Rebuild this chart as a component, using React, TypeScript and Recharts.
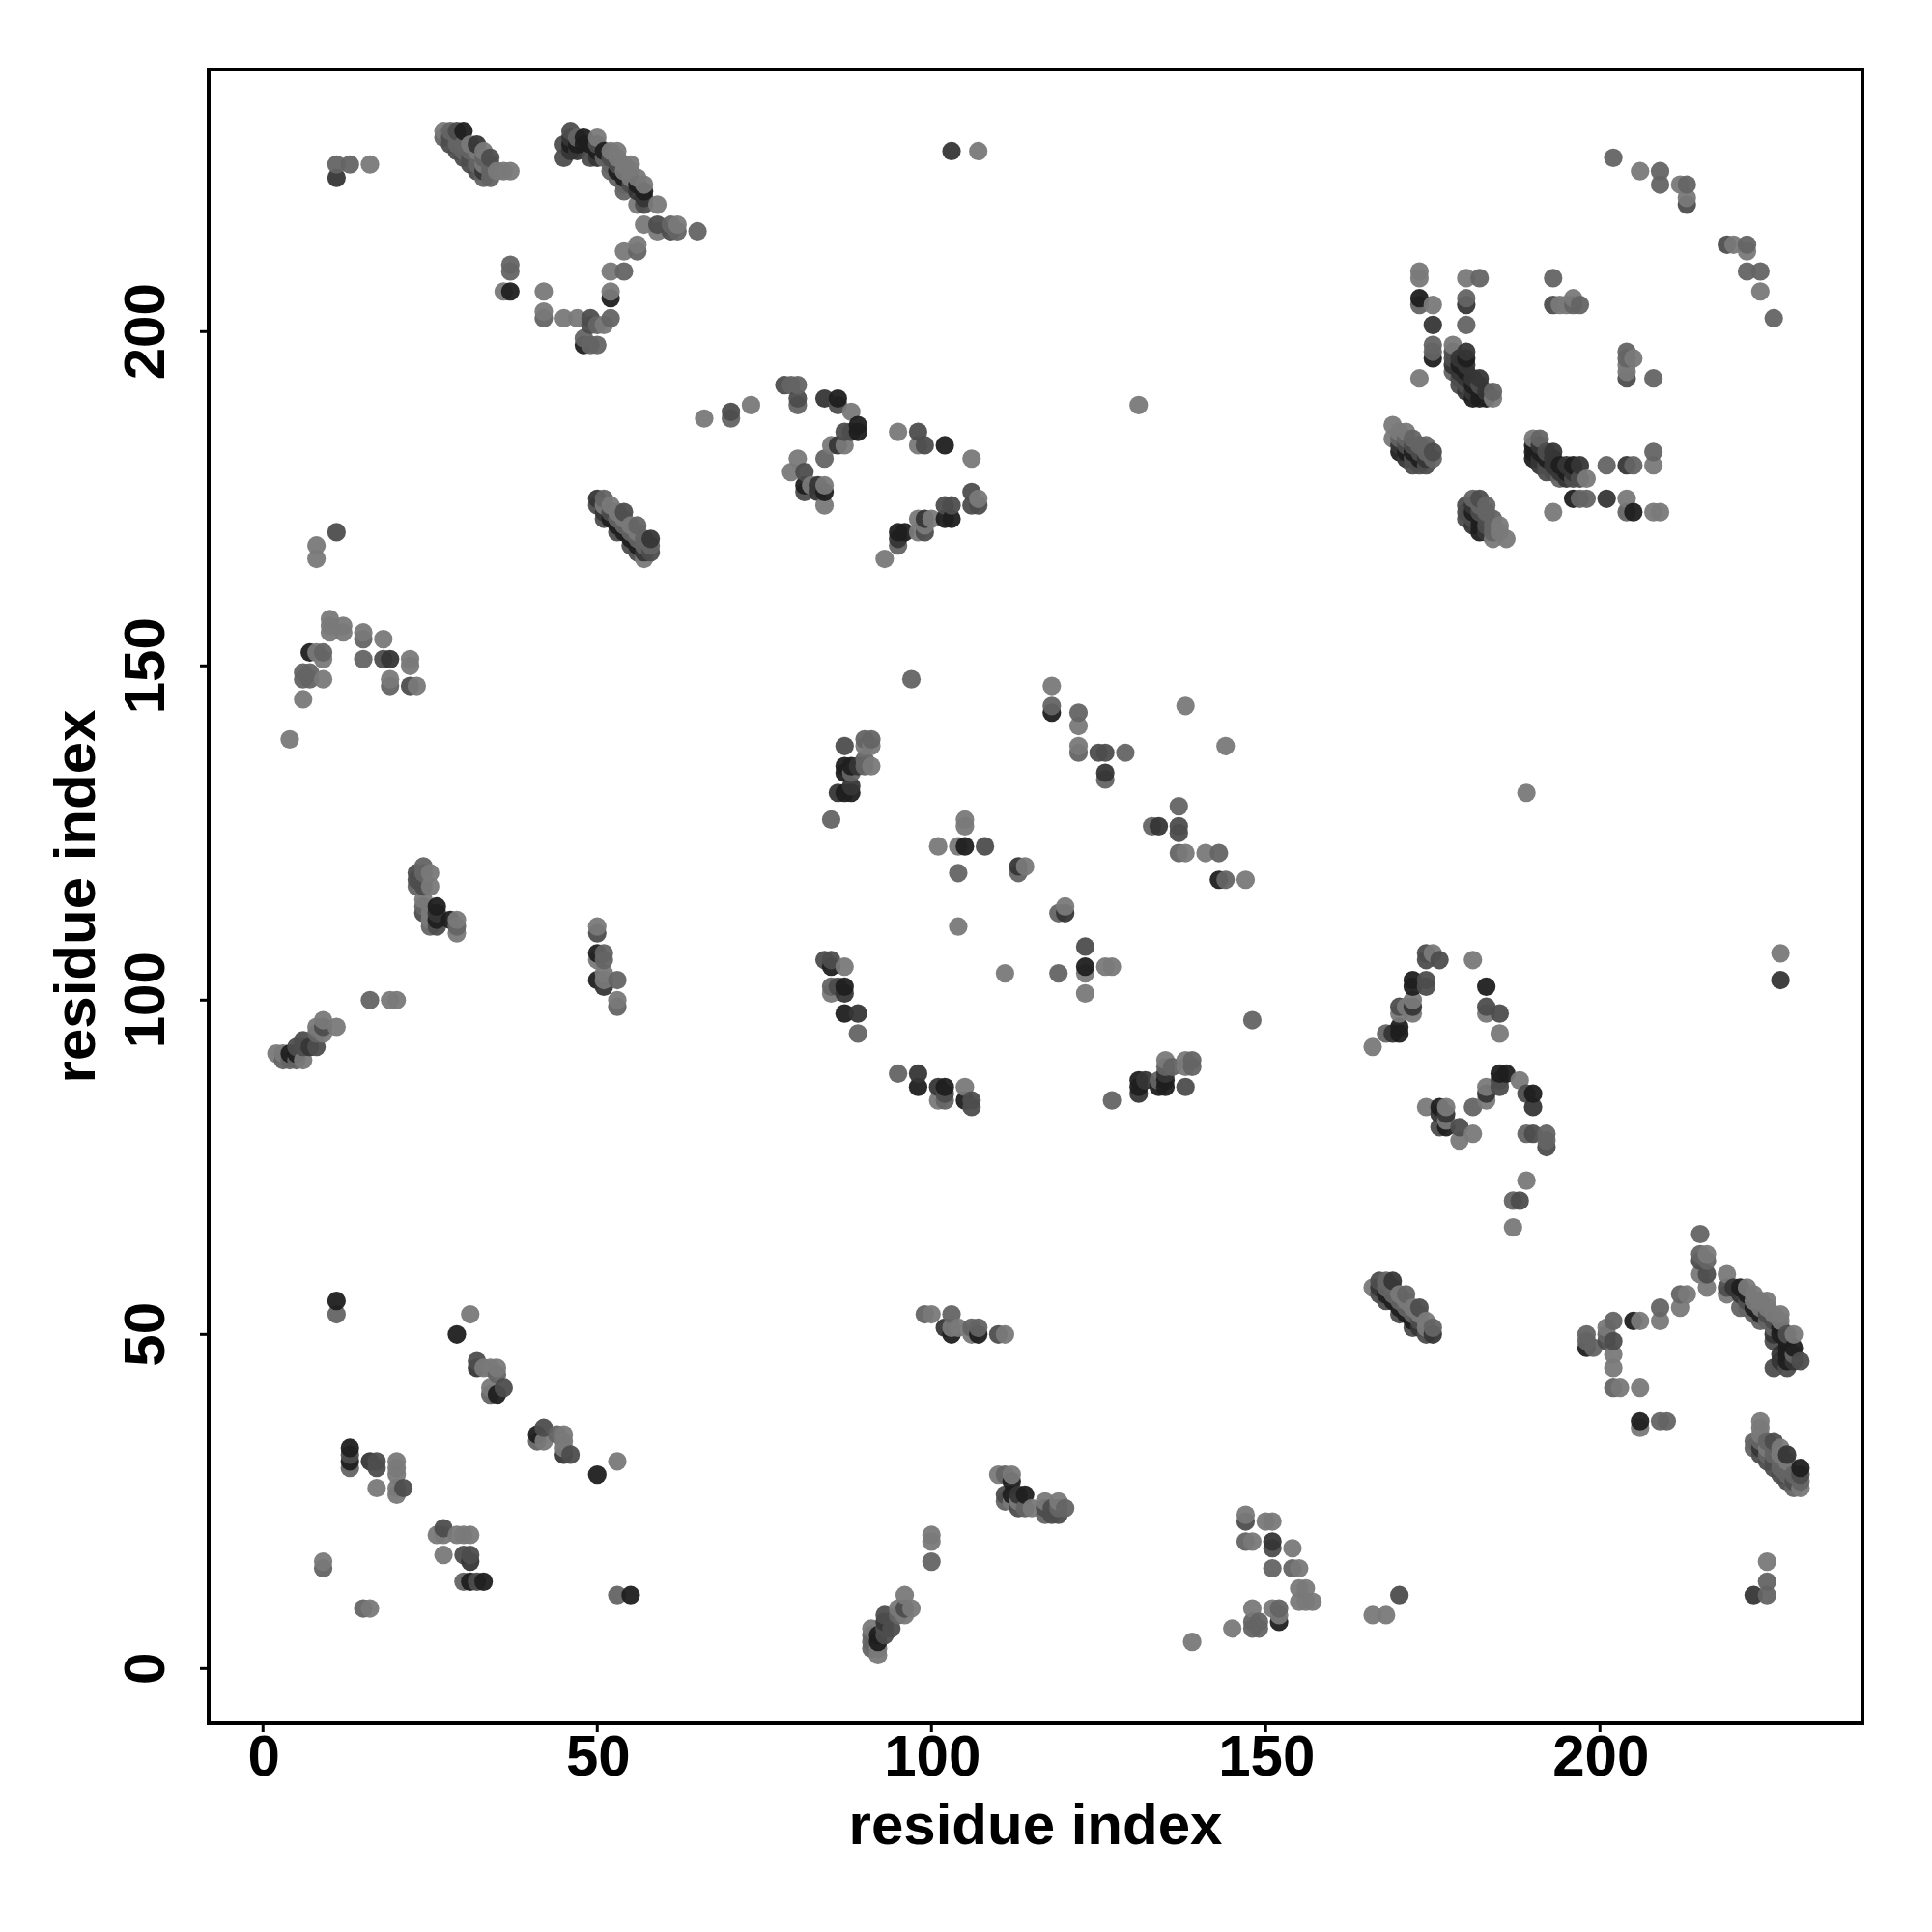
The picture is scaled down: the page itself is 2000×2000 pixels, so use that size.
import React from 'react';
import { ScatterChart, Scatter, XAxis, YAxis, ReferenceArea } from 'recharts';

// contact pairs: [residue i, residue j, shade class 1 (weak) .. 5 (strong)]
// the map is symmetric so every pair is drawn at (i,j) and (j,i)
type Pair = [number, number, number];

const farEnds: Pair[] = [
  [11, 225, 2], [13, 225, 2], [16, 225, 1], [11, 223, 4], [103, 227, 4], [107, 227, 1], [131, 189, 1],
  [11, 170, 3], [8, 168, 1], [8, 166, 1], [66, 187, 1], [70, 188, 3], [70, 187, 2], [73, 189, 1],
];

const strandA: Pair[] = [
  [27, 230, 1], [28, 230, 2], [29, 230, 3], [30, 230, 5], [27, 229, 2], [28, 229, 3], [29, 229, 2],
  [28, 228, 3], [29, 228, 2], [30, 228, 2], [31, 228, 1], [32, 228, 4], [29, 227, 3], [30, 227, 2],
  [31, 227, 2], [32, 227, 1], [33, 227, 1], [30, 226, 3], [31, 226, 3], [32, 226, 2], [33, 226, 2],
  [34, 226, 3], [31, 225, 3], [32, 225, 2], [33, 225, 1], [34, 225, 2], [32, 224, 3], [33, 224, 4],
  [34, 224, 2], [35, 224, 1], [36, 224, 1], [37, 224, 1], [33, 223, 2], [34, 223, 2],
];

const strandB: Pair[] = [
  [46, 230, 3], [45, 228, 3], [45, 226, 3], [46, 229, 4], [46, 228, 5], [47, 229, 2], [48, 229, 5],
  [50, 229, 1], [47, 228, 5], [48, 228, 5], [49, 228, 5], [50, 228, 3], [46, 227, 4], [47, 227, 4],
  [49, 226, 3], [50, 226, 4], [50, 227, 5], [51, 227, 5], [52, 227, 1], [53, 227, 1], [51, 226, 2],
  [52, 226, 3], [53, 226, 1], [52, 225, 2], [53, 225, 3], [54, 225, 1], [55, 225, 1], [52, 224, 2],
  [53, 224, 5], [54, 224, 1], [55, 224, 1], [53, 223, 2], [54, 223, 5], [55, 223, 1], [56, 223, 1],
  [54, 222, 2], [55, 222, 3], [56, 222, 5], [57, 222, 1], [54, 221, 2], [56, 221, 4], [57, 221, 5],
  [57, 220, 4], [56, 219, 1], [57, 219, 3], [59, 219, 1], [57, 216, 1], [59, 216, 3], [59, 215, 1],
  [61, 216, 2], [62, 216, 1], [61, 215, 3], [62, 215, 2], [65, 215, 2],
];

const hairpinTop: Pair[] = [
  [54, 212, 1], [56, 213, 1], [56, 212, 2], [52, 209, 1], [54, 209, 2], [52, 206, 1], [52, 205, 5],
  [52, 202, 2], [51, 201, 1], [50, 201, 2], [49, 202, 3], [49, 201, 3], [47, 202, 1], [45, 202, 1],
  [48, 199, 2], [48, 198, 5], [49, 198, 2], [50, 198, 2], [42, 206, 1], [42, 203, 1], [42, 202, 2],
  [37, 210, 2], [37, 209, 2], [36, 206, 1], [37, 206, 5],
];

const strandC: Pair[] = [
  [50, 175, 4], [50, 174, 3], [51, 175, 2], [51, 174, 1], [51, 173, 4], [51, 172, 3], [52, 174, 1],
  [52, 173, 3], [52, 172, 5], [53, 173, 1], [53, 172, 2], [53, 171, 5], [53, 170, 3], [54, 173, 3],
  [54, 172, 1], [54, 171, 2], [54, 170, 5], [55, 171, 1], [55, 170, 2], [55, 169, 5], [55, 168, 3],
  [56, 171, 2], [56, 170, 1], [56, 169, 2], [56, 168, 5], [56, 167, 3], [57, 169, 2], [57, 168, 2],
  [57, 167, 4], [57, 166, 1], [58, 169, 4], [58, 168, 2], [58, 167, 3],
];

const loop78to107: Pair[] = [
  [78, 192, 3], [79, 192, 2], [80, 192, 2], [80, 190, 3], [80, 189, 2], [84, 190, 4], [86, 190, 5],
  [86, 189, 3], [88, 188, 1], [89, 186, 5], [89, 185, 5], [87, 185, 3], [88, 185, 3], [87, 183, 1],
  [86, 183, 4], [85, 183, 1], [84, 181, 2], [80, 181, 1], [81, 179, 3], [79, 179, 1], [81, 177, 5],
  [81, 176, 3], [82, 177, 1], [83, 177, 4], [84, 177, 1], [83, 176, 4], [84, 176, 5], [84, 174, 1],
  [95, 185, 1], [98, 185, 3], [98, 183, 1], [99, 183, 3], [102, 183, 5], [106, 181, 1], [106, 176, 3],
  [107, 175, 1], [107, 174, 3], [106, 174, 3], [102, 174, 3], [103, 174, 3], [102, 172, 5], [103, 172, 5],
  [98, 172, 1], [99, 172, 4], [100, 172, 1], [99, 170, 3], [98, 170, 1], [99, 171, 1], [95, 170, 5],
  [96, 170, 5], [95, 169, 4], [95, 168, 2], [93, 166, 1],
];

const upperRightArc: Pair[] = [
  [202, 226, 2], [206, 224, 1], [209, 224, 2], [209, 222, 2], [212, 222, 1], [213, 222, 2], [213, 220, 1],
  [213, 219, 3],
];

const sheetArc: Pair[] = [
  [173, 209, 1], [173, 208, 1], [180, 208, 1], [182, 208, 2], [193, 208, 2], [173, 205, 5], [173, 204, 2],
  [175, 204, 1], [180, 205, 2], [180, 204, 4], [180, 201, 2], [175, 201, 4], [175, 198, 2], [175, 197, 2],
  [175, 196, 5], [173, 193, 1], [193, 204, 3], [194, 204, 1], [195, 204, 1], [196, 204, 2], [196, 205, 1],
  [197, 204, 2],
];

const sheetCore: Pair[] = [
  [178, 198, 1], [178, 197, 3], [178, 196, 3], [178, 195, 4], [178, 194, 2], [179, 196, 4], [179, 195, 5],
  [179, 194, 4], [179, 193, 3], [179, 192, 3], [180, 197, 4], [180, 196, 5], [180, 195, 4], [180, 194, 5],
  [180, 193, 4], [180, 192, 3], [180, 191, 4], [181, 193, 4], [181, 192, 5], [181, 191, 4], [181, 190, 5],
  [182, 193, 4], [182, 192, 3], [182, 191, 5], [182, 190, 5], [183, 191, 4], [183, 190, 5], [184, 191, 2],
  [184, 190, 1], [169, 186, 1], [169, 184, 1], [170, 185, 1], [170, 184, 2], [170, 183, 4], [170, 182, 5],
  [171, 185, 1], [171, 184, 2], [171, 183, 3], [171, 182, 5], [171, 181, 4], [172, 184, 2], [172, 183, 3],
  [172, 182, 5], [172, 181, 3], [172, 180, 3], [173, 183, 2], [173, 182, 3], [173, 181, 5], [173, 180, 3],
  [174, 183, 2], [174, 182, 2], [174, 181, 4], [174, 180, 3], [175, 182, 3], [175, 181, 2],
];

const helixLeft: Pair[] = [
  [4, 139, 1], [6, 145, 1], [7, 152, 5], [8, 152, 1], [9, 152, 2], [9, 151, 1], [6, 149, 2], [6, 148, 2],
  [7, 149, 2], [7, 148, 2], [9, 148, 1], [10, 156, 1], [10, 155, 1], [10, 157, 1], [12, 156, 1], [12, 155, 1],
  [15, 155, 1], [15, 154, 2], [18, 154, 1], [15, 151, 2], [18, 151, 3], [19, 151, 4], [22, 151, 1], [22, 150, 1],
  [19, 148, 1], [19, 147, 2], [22, 147, 3], [23, 147, 1],
];

const clusterMid: Pair[] = [
  [24, 120, 2], [23, 119, 3], [25, 119, 1], [23, 118, 3], [23, 117, 2], [25, 117, 1], [24, 119, 2], [24, 118, 3],
  [24, 117, 3], [24, 115, 1], [24, 114, 2], [24, 113, 3], [26, 114, 5], [26, 113, 4], [26, 112, 5], [25, 111, 2],
  [26, 111, 3], [28, 112, 5], [29, 112, 1], [29, 111, 2], [29, 110, 1], [25, 113, 1], [25, 112, 1],
  [50, 111, 1], [50, 110, 3], [50, 107, 5], [51, 107, 2], [50, 106, 1], [51, 106, 2], [50, 103, 5], [51, 104, 1],
  [51, 103, 1], [51, 102, 4], [53, 103, 2], [53, 100, 1], [53, 99, 2],
  [16, 100, 2], [19, 100, 1], [20, 100, 1],
];

const cornerBand: Pair[] = [
  [9, 97, 1], [8, 96, 1], [11, 96, 1], [9, 96, 3], [8, 95, 2], [9, 95, 1], [6, 94, 3], [7, 93, 4], [8, 93, 3],
  [6, 93, 3], [5, 93, 3], [5, 92, 5], [4, 92, 5], [2, 92, 1], [3, 92, 1], [3, 91, 2], [4, 91, 2], [5, 91, 2],
  [6, 91, 1],
];

const centerA: Pair[] = [
  [97, 148, 2], [87, 138, 3], [90, 139, 2], [91, 139, 2], [90, 138, 1], [91, 138, 1], [90, 136, 2], [90, 135, 2],
  [91, 135, 1], [87, 135, 5], [88, 135, 5], [89, 135, 4], [87, 134, 5], [88, 134, 2], [86, 131, 4], [87, 131, 5],
  [88, 131, 5], [88, 132, 4], [85, 127, 2],
  [118, 147, 1], [118, 144, 2], [118, 143, 5], [122, 143, 2], [122, 141, 1], [122, 138, 1], [122, 137, 2],
  [125, 137, 3], [126, 137, 3], [129, 137, 2], [126, 134, 4], [126, 133, 2], [138, 144, 1],
];

const centerB: Pair[] = [
  [105, 127, 1], [105, 126, 1], [101, 123, 1], [104, 123, 1], [105, 123, 5], [108, 123, 3], [104, 119, 2],
  [113, 120, 4], [114, 120, 1], [113, 119, 2], [104, 111, 1],
  [84, 106, 3], [85, 106, 3], [85, 105, 5], [87, 105, 1], [85, 102, 2], [86, 102, 3], [87, 102, 5], [87, 101, 4],
  [85, 101, 1], [87, 98, 5], [89, 98, 4], [89, 95, 2],
];

const lowLeft: Pair[] = [
  [11, 55, 5], [11, 53, 2], [31, 53, 1], [29, 50, 5], [32, 46, 3], [32, 45, 4], [33, 45, 1], [34, 45, 1], [35, 45, 1],
  [35, 44, 2], [34, 42, 1], [36, 42, 3], [34, 41, 2], [35, 41, 5],
  [13, 33, 5], [13, 32, 3], [13, 31, 5], [13, 30, 2], [16, 31, 4], [17, 31, 3], [17, 30, 3], [20, 31, 1], [20, 30, 1],
  [20, 29, 1], [20, 27, 1], [20, 26, 1], [21, 27, 3], [17, 27, 1], [9, 16, 1], [9, 15, 2],
];

const lists: Pair[][] = [
  farEnds, strandA, strandB, hairpinTop, strandC, loop78to107, upperRightArc, sheetArc, sheetCore,
  helixLeft, clusterMid, cornerBand, centerA, centerB, lowLeft,
];

const xTicks = [0, 50, 100, 150, 200];
const yTicks = [0, 50, 100, 150, 200];
const shades = ['', '#797979', '#646464', '#4d4d4d', '#363636', '#1f1f1f'];

const seen = new Set<string>();
const rows: { x: number; y: number; score: number }[] = [];
lists.forEach((list) =>
  list.forEach(([i, j, score]) => {
    [[i, j], [j, i]].forEach(([x, y]) => {
      const key = `${x}-${y}`;
      if (seen.has(key)) return;
      seen.add(key);
      rows.push({ x, y, score });
    });
  }),
);
rows.sort((a, b) => a.x - b.x || a.y - b.y);

const font = '"Liberation Sans", Arial, sans-serif';

const Dot = (props: any) => (
  <circle cx={props.cx} cy={props.cy} r={9.6} fill={shades[props.payload.score]} fillOpacity={0.95} />
);

const XTick = (props: any) => (
  <text x={props.x + 1} y={props.y + 45} textAnchor="middle" fontFamily={font} fontWeight="bold" fontSize={60} fill="#000">
    {props.payload.value}
  </text>
);

const YTick = (props: any) => (
  <text
    transform={`translate(${props.x - 37},${props.y}) rotate(-90)`}
    textAnchor="middle"
    fontFamily={font}
    fontWeight="bold"
    fontSize={60}
    fill="#000"
  >
    {props.payload.value}
  </text>
);

const labelStyle = { fontFamily: font, fontWeight: 'bold', fontSize: 60, fill: '#000', textAnchor: 'middle' } as const;

export default function App() {
  return (
    <div style={{ position: 'absolute', left: 0, top: 0, background: '#fff' }}>
      <ScatterChart width={2000} height={2000} margin={{ top: 72, right: 72, bottom: 88, left: 86 }}>
        <XAxis
          type="number"
          dataKey="x"
          domain={[-8.13, 239.27]}
          ticks={xTicks}
          allowDataOverflow
          height={128}
          axisLine={false}
          tickSize={9}
          tickMargin={0}
          tickLine={{ stroke: '#000', strokeWidth: 3 }}
          tick={<XTick />}
          label={{ value: 'residue index', position: 'insideBottom', offset: 3, style: labelStyle }}
        />
        <YAxis
          type="number"
          dataKey="y"
          domain={[-8.19, 239.2]}
          ticks={yTicks}
          allowDataOverflow
          width={130}
          axisLine={false}
          tickSize={9}
          tickMargin={0}
          tickLine={{ stroke: '#000', strokeWidth: 3 }}
          tick={<YTick />}
          label={{ value: 'residue index', angle: -90, position: 'insideLeft', offset: -9, style: labelStyle }}
        />
        <ReferenceArea x1={-8.13} x2={239.27} y1={-8.19} y2={239.2} fill="none" stroke="#000" strokeWidth={4} ifOverflow="visible" />
        <Scatter data={rows} shape={<Dot />} isAnimationActive={false} />
      </ScatterChart>
    </div>
  );
}
